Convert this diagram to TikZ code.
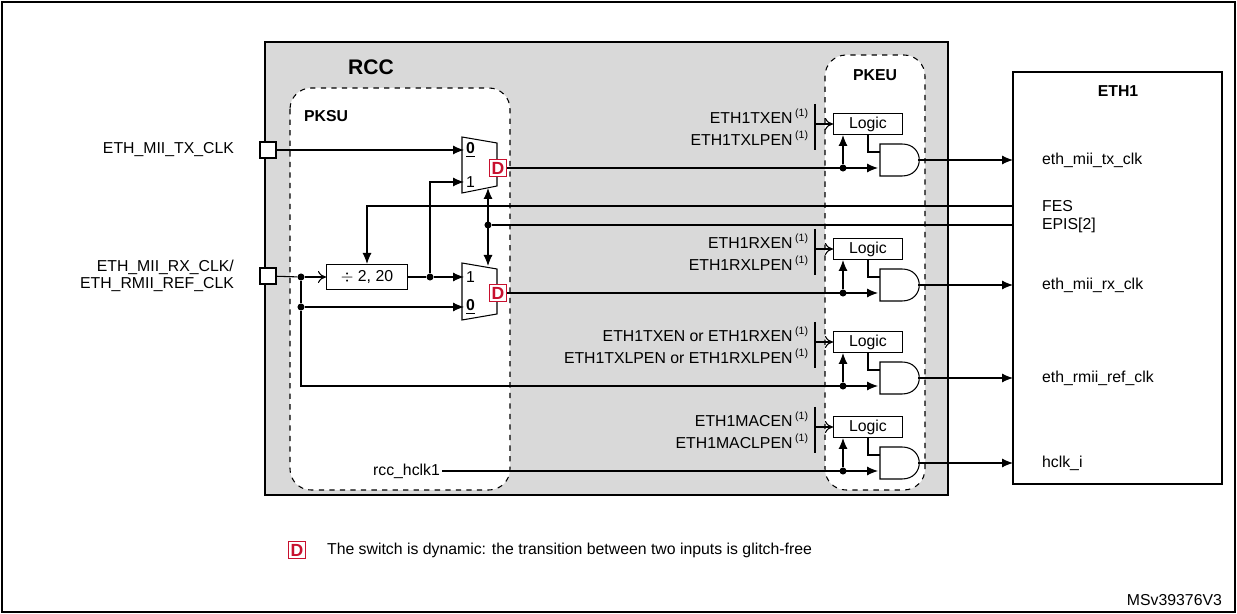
\documentclass[tikz,border=0pt]{standalone}
\usepackage{fontspec}
\setmainfont{Liberation Sans}
\usetikzlibrary{arrows.meta,positioning}
\definecolor{rccgray}{RGB}{217,217,217}
\definecolor{dred}{RGB}{200,16,46}
\tikzset{
  lbl/.style={font=\fontsize{9}{10}\selectfont,inner sep=1pt},
  box/.style={draw,fill=white,line width=0.6pt,inner sep=0pt},
  dsw/.style={draw=dred,fill=white,text=dred,font=\bfseries\fontsize{10}{10}\selectfont,minimum size=0.34cm,inner sep=0pt,line width=0.8pt},
  dot/.style={circle,fill,inner sep=0pt,minimum size=4pt},
  sig/.style={line width=0.6pt,-{Latex[length=2.2mm,width=1.8mm]}},
  osig/.style={line width=0.6pt,-{To[length=1.6mm,width=2.4mm]}},
  dsig/.style={line width=0.6pt,{Latex[length=2.2mm,width=1.8mm]}-{Latex[length=2.2mm,width=1.8mm]}},
  ln/.style={line width=0.6pt}
}
\newcommand{\fn}{\,\textsuperscript{\fontsize{6}{6}\selectfont(1)}}
\begin{document}
\begin{tikzpicture}[x=0.02cm,y=-0.02cm]
  \useasboundingbox (0,0) rectangle (1237,614);
  \draw[line width=0.6pt] (2,2) rectangle (1235,612);
  % blocks
  \draw[fill=rccgray,line width=1.2pt] (265,42) rectangle (948,495);
  \draw[fill=white,dashed,rounded corners=12pt,line width=0.6pt] (290,88) rectangle (510,490);
  \draw[fill=white,dashed,rounded corners=12pt,line width=0.6pt] (825,55) rectangle (925,490);
  \draw[line width=1.2pt] (1013,72) rectangle (1222,484);
  \node[font=\bfseries\fontsize{12}{12}\selectfont,anchor=west] (rcc) at (342,67) {RCC};
  \node[lbl,font=\bfseries\fontsize{9}{10}\selectfont,anchor=west] (pksu) at (302,116) {PKSU};
  \node[lbl,font=\bfseries\fontsize{9}{10}\selectfont] (pkeu) at (875,75) {PKEU};
  \node[lbl,font=\bfseries\fontsize{9}{10}\selectfont] (eth) at (1118,91) {ETH1};

  % inputs
  \node[box,minimum size=0.32cm] (txin) at (268,150) {};
  \node[box,minimum size=0.32cm] (rxin) at (268,276) {};
  \node[lbl,anchor=east] (txlbl) at (236,150) {ETH\_MII\_TX\_CLK};
  \node[lbl,anchor=east,align=right] (rxlbl) at (236,276) {ETH\_MII\_RX\_CLK/\\ETH\_RMII\_REF\_CLK};

  % muxes
  \draw[fill=white,ln] (462,137) -- (497,143) -- (497,186) -- (462,193) -- cycle;
  \draw[fill=white,ln] (462,263) -- (497,269) -- (497,314) -- (462,320) -- cycle;
  \node[lbl,anchor=west] (txm0) at (464,150) {\bfseries\underline{0}};
  \node[lbl,anchor=west] (txm1) at (464,182) {1};
  \node[lbl,anchor=west] (rxm1) at (464,277) {1};
  \node[lbl,anchor=west] (rxm0) at (464,307) {\bfseries\underline{0}};
  \coordinate (txmtop) at (488,188);
  \coordinate (rxmtop) at (488,266);
  \node[dsw] (txd) at (498,168) {D};
  \node[dsw] (rxd) at (498,293) {D};
  \node[box,minimum width=1.62cm,minimum height=0.5cm,lbl] (div) at (367,277) {$\div$ 2, 20};

  % PKSU wiring
  \node[dot] (rxdot) at (301,277) {};
  \node[dot] (rxdot0) at (301,307) {};
  \node[dot] (divdot) at (430,277) {};
  \node[dot] (episdot) at (488,225) {};
  \draw[sig] (txin) -- (txm0.west);
  \draw[ln] (rxin) -- (rxdot);
  \draw[osig] (rxdot) -- (div);
  \draw[ln] (div) -- (divdot);
  \draw[sig] (divdot) -- (rxm1.west);
  \draw[sig] (divdot) |- (txm1.west);
  \draw[sig] (rxdot0) -- (rxm0.west);
  \draw[ln] (rxdot) -- (rxdot0);
  \draw[dsig] (txmtop) -- (rxmtop);
  \coordinate (fesend) at (1013,206);
  \coordinate (episend) at (1013,225);
  \draw[sig] (fesend) -| (div.north);
  \draw[ln] (episdot) -- (episend);
  \node[lbl,anchor=west] (fes) at (1040,206) {FES};
  \node[lbl,anchor=west] (epis) at (1040,225) {EPIS[2]};

  % PKEU gates
  \foreach \n/\y/\la/\lb/\o in {tx/124/ETH1TXEN/ETH1TXLPEN/eth\_mii\_tx\_clk,
      rx/249/ETH1RXEN/ETH1RXLPEN/eth\_mii\_rx\_clk,
      rm/342/ETH1TXEN or ETH1RXEN/ETH1TXLPEN or ETH1RXLPEN/eth\_rmii\_ref\_clk,
      mac/427/ETH1MACEN/ETH1MACLPEN/hclk\_i}{
    \node[box,minimum width=1.38cm,minimum height=0.42cm,lbl] (\n logic) at (868,\y) {Logic};
    \draw[fill=white,ln] (880,\y+20) -- (902,\y+20) .. controls (925,\y+20) and (925,\y+52) .. (902,\y+52) -- (880,\y+52) -- cycle;
    \coordinate (\n and) at (918,\y+36);
    \coordinate (\n gin) at (878,\y+44);
    \node[dot] (\n dot) at (843,\y+44) {};
    \draw[ln] (815,\y-20) -- (815,\y+26);
    \node[lbl,anchor=east] (\n la) at (811,\y-8) {\la\fn};
    \node[lbl,anchor=east] (\n lb) at (811,\y+14) {\lb\fn};
    \draw[osig] (815,\y) -- (\n logic.west);
    \draw[sig] (\n dot) -- (843,\y+11);
    \draw[ln] (\n logic.south) |- (880,\y+28);
    \draw[sig] (\n and) -- (1013,\y+36);
    \node[lbl,anchor=west] (\n out) at (1040,\y+36) {\o};
  }
  \draw[sig] (txd) -- (txgin);
  \draw[sig] (rxd) -- (rxgin);
  \draw[sig] (rxdot0) |- (rmgin);
  \node[lbl,anchor=east] (hclk) at (442,471) {rcc\_hclk1};
  \draw[sig] (hclk) -- (macgin);

  % legend
  \node[dsw] (legd) at (297,550) {D};
  \node[lbl,anchor=west] (legtxt) at (325,550) {The switch is dynamic: the transition between two inputs is glitch-free};
  \node[lbl,anchor=east] (ref) at (1224,600) {MSv39376V3};
\end{tikzpicture}
\end{document}
